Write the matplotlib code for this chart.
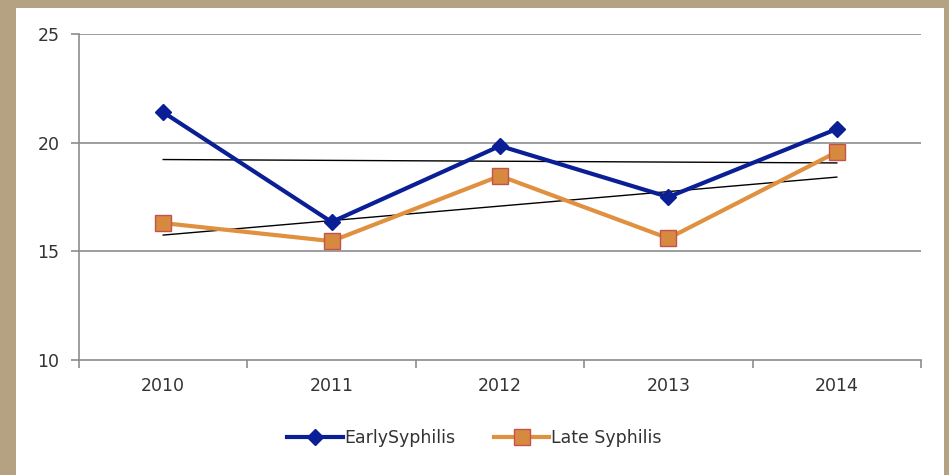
import matplotlib.pyplot as plt
import numpy as np
from matplotlib.patches import Rectangle

# Data
years = ["2010", "2011", "2012", "2013", "2014"]
early_syphilis = [21.4, 16.35, 19.85, 17.5, 20.63]
late_syphilis = [16.3, 15.47, 18.47, 15.6, 19.57]

plt.rcParams["font.family"] = ["DejaVu Sans"]

fig = plt.figure(figsize=(9.49, 4.75), dpi=100)
fig.patch.set_facecolor("#B4A282")
# white chart panel
fig.patches.append(Rectangle((16 / 949, 0), 928 / 949, 467 / 475,
                             transform=fig.transFigure, facecolor="white",
                             edgecolor="none", zorder=-1))

ax = fig.add_axes([79 / 949, 1 - 360 / 475, 842 / 949, 326 / 475])
ax.set_facecolor("white")

x = np.arange(len(years))

# gridlines
for v in [15, 20, 25]:
    ax.axhline(v, color="#8C8C8C", lw=1.2, zorder=1)

# linear trend lines
for series in [early_syphilis, late_syphilis]:
    p = np.poly1d(np.polyfit(x, series, 1))
    ax.plot(x, p(x), color="black", lw=1.0, zorder=2)

ax.plot(x, early_syphilis, color="#0A1E96", lw=3, marker="D", markersize=8,
        markerfacecolor="#0A1E96", markeredgecolor="#0A1E96",
        label="EarlySyphilis", zorder=4)
ax.plot(x, late_syphilis, color="#E0913F", lw=3, marker="s", markersize=11,
        markerfacecolor="#D58A40", markeredgecolor="#C8504D", markeredgewidth=1,
        label="Late Syphilis", zorder=3)

ax.set_xlim(-0.5, 4.5)
ax.set_ylim(10, 25)
ax.set_yticks([10, 15, 20, 25])
ax.set_xticks(x)
ax.set_xticklabels(years)
ax.set_xticks(np.arange(-0.5, 5, 1), minor=True)

for side in ["top", "right"]:
    ax.spines[side].set_visible(False)
ax.spines["left"].set_color("#8C8C8C")
ax.spines["bottom"].set_color("#8C8C8C")
ax.spines["left"].set_linewidth(1.2)
ax.spines["bottom"].set_linewidth(1.2)

ax.tick_params(axis="y", colors="#8C8C8C", labelcolor="#333333", labelsize=12.5,
               length=6, width=1.2, pad=8)
ax.tick_params(axis="x", which="major", length=0, labelcolor="#333333",
               labelsize=12.5, pad=12)
ax.tick_params(axis="x", which="minor", length=6, width=1.2, color="#8C8C8C")

leg = fig.legend(loc="center", bbox_to_anchor=(0.5, 1 - 438 / 475), ncol=2,
                 frameon=False, fontsize=12.5, handlelength=3.2,
                 handletextpad=0.1, columnspacing=2.2)
for t in leg.get_texts():
    t.set_color("#333333")

fig.savefig("out.png", dpi=100, facecolor=fig.get_facecolor())
